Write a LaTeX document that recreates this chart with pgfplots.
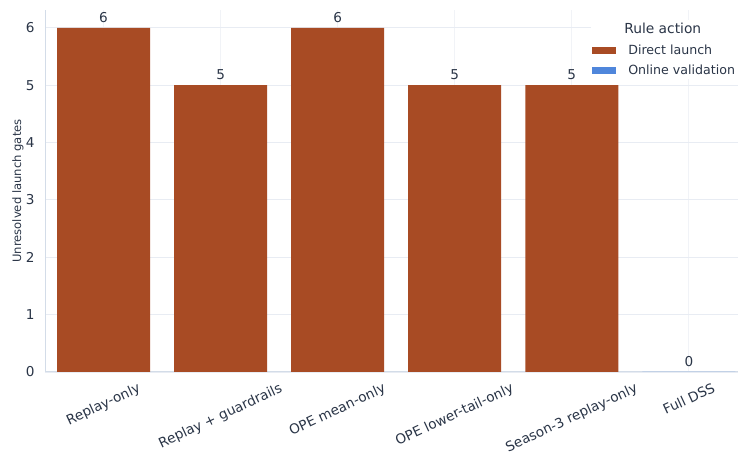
\documentclass[border=0pt]{standalone}
\usepackage{graphicx}
\usepackage{fontspec}
\setmainfont{DejaVu Sans}
\usepackage{pgfplots}
\pgfplotsset{compat=1.18}
\definecolor{barrust}{HTML}{A84B24}
\definecolor{barblue}{HTML}{4F86DB}
\definecolor{gridc}{HTML}{E8ECF3}
\definecolor{gridv}{HTML}{F1F3F7}
\definecolor{axc}{HTML}{D3DCE8}
\definecolor{txt}{HTML}{2A3547}
\begin{document}
\begin{tikzpicture}[x=1pt,y=1pt]
\begin{axis}[
  at={(45pt,82pt)}, anchor=south west,
  scale only axis, width=693pt, height=362pt,
  xmin=-0.5, xmax=5.42, ymin=0, ymax=6.31,
  ybar=0pt, bar width=93pt, bar shift=0pt,
  xtick={0,1,2,3,4,5},
  xticklabels={{\rotatebox{25}{Replay-only}},{\rotatebox{25}{Replay + guardrails}},{\rotatebox{25}{OPE mean-only}},{\rotatebox{25}{OPE lower-tail-only}},{\rotatebox{25}{Season-3 replay-only}},{\rotatebox{25}{Full DSS}}},
  ytick={0,1,2,3,4,5,6},
  /pgf/number format/assume math mode=true,
  tick label style={font=\fontsize{13.6}{16}\selectfont, text=txt},
  xticklabel style={anchor=north, yshift=-10pt, inner sep=0pt},
  yticklabel style={xshift=-7pt},
  major tick length=0pt,
  xmajorgrids, ymajorgrids,
  x grid style={gridv, line width=0.7pt},
  y grid style={gridc, line width=0.8pt},
  axis x line*=bottom, axis y line*=left,
  axis line style={axc, line width=1pt, -},
  ylabel={Unresolved launch gates},
  ylabel style={font=\fontsize{11.6}{13}\selectfont, text=txt, at={(axis description cs:0,0.5)}, anchor=center, yshift=27pt},
  nodes near coords,
  every node near coord/.append style={font=\fontsize{13.6}{16}\selectfont, text=txt, yshift=2pt},
  legend style={at={(1,0.971)}, anchor=north east, draw=none, fill=white,
    font=\fontsize{12.6}{15}\selectfont, text=txt, row sep=5pt, inner sep=1pt, outer sep=0pt,
    /tikz/every odd column/.append style={column sep=10pt}},
  legend cell align=left,
  legend image code/.code={\fill[#1] (0pt,-3.5pt) rectangle (24pt,3.5pt);},
]
\addlegendimage{empty legend}
\addlegendentry{\hspace{-4pt}\fontsize{13.8}{16}\selectfont Rule action}
\addplot[fill=barrust, draw=none] coordinates {(0,6) (1,5) (2,6) (3,5) (4,5)};
\addlegendentry{Direct launch}
\addplot[fill=barblue, draw=none] coordinates {(5,0)};
\addlegendentry{Online validation}
\end{axis}
\pgfresetboundingbox
\useasboundingbox (0,0) rectangle (738pt,454pt);
\end{tikzpicture}
\end{document}
